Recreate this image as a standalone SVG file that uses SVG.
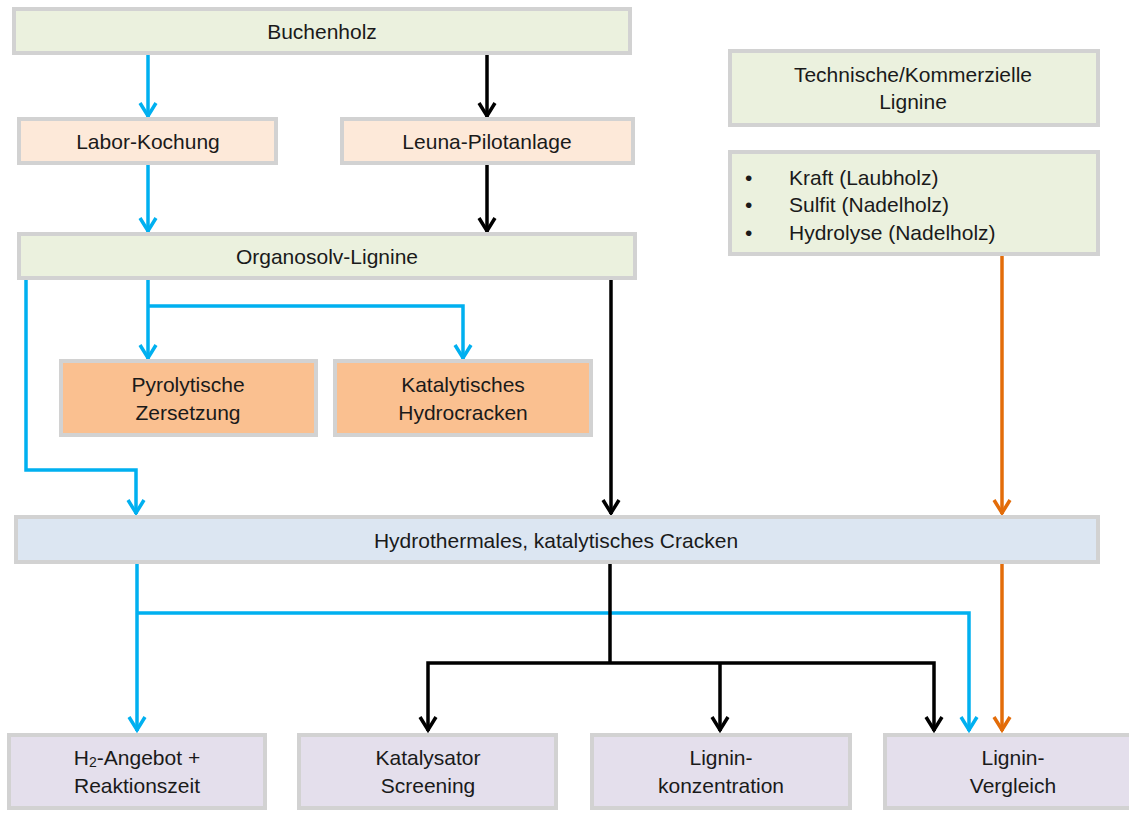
<svg xmlns="http://www.w3.org/2000/svg" width="1129" height="830" viewBox="0 0 1129 830">
<style>
.box{stroke:#d2d2d2;stroke-width:4}
.g{fill:#ebf1de}.p{fill:#fde9d9}.o{fill:#fac090}.b{fill:#dce6f2}.v{fill:#e4dfec}
text{font-family:"Liberation Sans",Arial,sans-serif;font-size:21px;fill:#1a1a1a;text-anchor:middle;dominant-baseline:central}
.l{text-anchor:start}
.c{fill:none;stroke-width:3.5}
.bl{stroke:#00b0f0}.bk{stroke:#000}.or{stroke:#e36c09}
</style>
<rect width="1129" height="830" fill="#fff"/>
<g id="connectors">
<path class="c bl" d="M148,55 V117"/>
<path class="c bk" d="M487,55 V117"/>
<path class="c bl" d="M148,165 V232"/>
<path class="c bk" d="M487,165 V232"/>
<path class="c bl" d="M148,280 V359 M148,306 H463 V359"/>
<path class="c bl" d="M26,280 V470 H136 V514"/>
<path class="c bk" d="M611,280 V514"/>
<path class="c or" d="M1002,256 V514"/>
<path class="c bl" d="M137,563 V731 M137,613 H969 V731"/>
<path class="c bk" d="M610,563 V663 M428,731 V663 H934 V731 M720,663 V731"/>
<path class="c or" d="M1002,563 V731"/>
<g fill="none" stroke-width="3.5">
<path stroke="#00b0f0" d="M140,103 L148,116 L156,103 M140,218 L148,231 L156,218 M140,345 L148,358 L156,345 M455,345 L463,358 L471,345 M128,500 L136,513 L144,500 M129,717 L137,730 L145,717 M961,717 L969,730 L977,717"/>
<path stroke="#000" d="M479,103 L487,116 L495,103 M479,218 L487,231 L495,218 M603,500 L611,513 L619,500 M420,717 L428,730 L436,717 M712,717 L720,730 L728,717 M926,717 L934,730 L942,717"/>
<path stroke="#e36c09" d="M994,500 L1002,513 L1010,500 M994,717 L1002,730 L1010,717"/>
</g>
</g>
<g id="buchenholz"><rect class="box g" x="14" y="9" width="616" height="44"/><text x="322" y="31">Buchenholz</text></g>
<g id="labor"><rect class="box p" x="19" y="119" width="257" height="44"/><text x="148" y="141">Labor-Kochung</text></g>
<g id="leuna"><rect class="box p" x="342" y="119" width="291" height="44"/><text x="487" y="141">Leuna-Pilotanlage</text></g>
<g id="organosolv"><rect class="box g" x="19" y="234" width="616" height="44"/><text x="327" y="256">Organosolv-Lignine</text></g>
<g id="pyrolyse"><rect class="box o" x="61" y="361" width="255" height="74"/><text x="188" y="384">Pyrolytische</text><text x="188" y="412">Zersetzung</text></g>
<g id="hydrocracken"><rect class="box o" x="335" y="361" width="256" height="74"/><text x="463" y="384">Katalytisches</text><text x="463" y="412">Hydrocracken</text></g>
<g id="technisch"><rect class="box g" x="730" y="51" width="368" height="74"/><text x="913" y="74">Technische/Kommerzielle</text><text x="913" y="101">Lignine</text></g>
<g id="typen"><rect class="box g" x="730" y="152" width="368" height="102"/>
<text class="l" x="745" y="177">•</text><text class="l" x="789" y="177">Kraft (Laubholz)</text>
<text class="l" x="745" y="204">•</text><text class="l" x="789" y="204">Sulfit (Nadelholz)</text>
<text class="l" x="745" y="232">•</text><text class="l" x="789" y="232">Hydrolyse (Nadelholz)</text></g>
<g id="hydrothermal"><rect class="box b" x="16" y="517" width="1082" height="45"/><text x="556" y="540">Hydrothermales, katalytisches Cracken</text></g>
<g id="h2"><rect class="box v" x="9" y="735" width="256" height="73"/><text x="137" y="757">H<tspan font-size="14" dy="5">2</tspan><tspan dy="-5">-Angebot +</tspan></text><text x="137" y="785">Reaktionszeit</text></g>
<g id="katalysator"><rect class="box v" x="299" y="735" width="257" height="73"/><text x="428" y="757">Katalysator</text><text x="428" y="785">Screening</text></g>
<g id="konzentration"><rect class="box v" x="592" y="735" width="258" height="73"/><text x="721" y="757">Lignin-</text><text x="721" y="785">konzentration</text></g>
<g id="vergleich"><rect class="box v" x="885" y="735" width="258" height="73"/><text x="1013" y="757">Lignin-</text><text x="1013" y="785">Vergleich</text></g>
</svg>
